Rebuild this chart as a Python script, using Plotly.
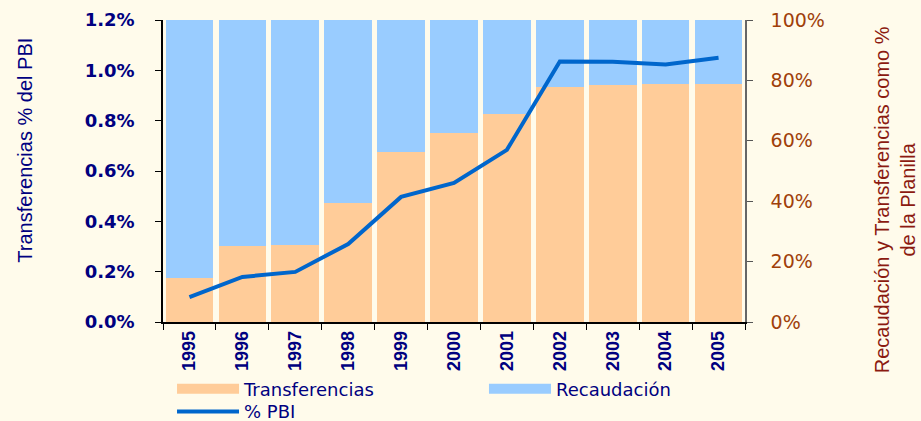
import plotly.graph_objects as go

years = ["1995", "1996", "1997", "1998", "1999", "2000", "2001", "2002", "2003", "2004", "2005"]
transferencias = [0.146, 0.252, 0.255, 0.394, 0.563, 0.626, 0.690, 0.778, 0.785, 0.788, 0.788]
recaudacion = [0.854, 0.748, 0.745, 0.606, 0.437, 0.374, 0.310, 0.222, 0.215, 0.212, 0.212]
pct_pbi = [0.00099, 0.00179, 0.00199, 0.00310, 0.00497, 0.00553, 0.00684, 0.01035, 0.01034, 0.01023, 0.01050]

left_ticks = [0, 0.002, 0.004, 0.006, 0.008, 0.010, 0.012]
left_ticktext = ["0.0%", "0.2%", "0.4%", "0.6%", "0.8%", "1.0%", "1.2%"]
right_ticks = [0, 0.2, 0.4, 0.6, 0.8, 1.0]
right_ticktext = ["0%", "20%", "40%", "60%", "80%", "100%"]

BG = "#FFFBEB"
NAVY = "#000080"
PEACH = "#FFCC99"
SKY = "#99CCFF"
LINE = "#0066CC"

fig = go.Figure()
fig.add_trace(go.Bar(x=years, y=transferencias, name="Transferencias", showlegend=False,
                     marker=dict(color=PEACH, line=dict(width=0)), yaxis="y"))
fig.add_trace(go.Bar(x=years, y=recaudacion, name="Recaudación", showlegend=False,
                     marker=dict(color=SKY, line=dict(width=0)), yaxis="y"))
fig.add_trace(go.Scatter(x=years, y=pct_pbi, name="% PBI", mode="lines", showlegend=False,
                         line=dict(color=LINE, width=4), yaxis="y2"))
# legend swatches (wide rectangles like the original legend)
fig.add_trace(go.Scatter(x=[None], y=[None], name="Transferencias", mode="lines",
                         line=dict(color=PEACH, width=12), yaxis="y2", legend="legend"))
fig.add_trace(go.Scatter(x=[None], y=[None], name="Recaudación", mode="lines",
                         line=dict(color=SKY, width=12), yaxis="y2", legend="legend2"))
fig.add_trace(go.Scatter(x=[None], y=[None], name="% PBI", mode="lines",
                         line=dict(color=LINE, width=4), yaxis="y2", legend="legend3"))

legend_font = dict(family="DejaVu Sans", size=18, color=NAVY)
def leg(x, y):
    return dict(x=x, xanchor="left", y=y, yanchor="middle", font=legend_font,
                bgcolor="rgba(0,0,0,0)", itemwidth=62, borderwidth=0,
                orientation="h")

fig.update_layout(
    width=921, height=421,
    margin=dict(l=163, r=176, t=20, b=99, autoexpand=False),
    paper_bgcolor=BG, plot_bgcolor=BG,
    barmode="stack", bargap=0.1,
    showlegend=True,
    legend=leg(0.0155, -0.222),
    legend2=leg(0.5515, -0.222),
    legend3=leg(0.0155, -0.297),
    xaxis=dict(type="category", tickangle=-90, tickson="boundaries",
               ticks="outside", ticklen=6, tickcolor="#000000",
               showline=True, linecolor="#000000", linewidth=1.5,
               showgrid=False, zeroline=False,
               tickfont=dict(family="Liberation Sans", size=18, color=NAVY, weight="bold")),
    yaxis=dict(side="right", range=[0, 1], tickvals=right_ticks, ticktext=right_ticktext,
               ticks="outside", ticklen=6, tickcolor="#555555",
               showline=True, linecolor="#666666", linewidth=1.5,
               showgrid=False, zeroline=False, ticklabelstandoff=14,
               tickfont=dict(family="DejaVu Sans", size=19, color="#A0400A")),
    yaxis2=dict(side="left", overlaying="y", range=[0, 0.012],
                tickvals=left_ticks, ticktext=left_ticktext,
                ticks="outside", ticklen=6, tickcolor="#000000",
                showline=True, linecolor="#000000", linewidth=1.5,
                showgrid=False, zeroline=False, ticklabelstandoff=17,
                tickfont=dict(family="DejaVu Sans", size=18, color=NAVY, weight="bold")),
    annotations=[
        dict(text="Transferencias % del PBI", textangle=-90, xref="paper", yref="paper",
             x=-0.2375, y=0.57, xanchor="center", yanchor="middle", showarrow=False,
             font=dict(family="Liberation Sans", size=20, color=NAVY)),
        dict(text="Recaudación y Transferencias como %<br>de la Planilla", textangle=-90,
             xref="paper", yref="paper", x=1.257, y=0.405, xanchor="center", yanchor="middle",
             showarrow=False, align="center",
             font=dict(family="Liberation Sans", size=20, color="#8B1A10")),
    ],
)

fig.write_html("out.html", config={"displayModeBar": False},
               post_script="document.body.style.margin='0';document.body.style.background='%s';" % BG)
